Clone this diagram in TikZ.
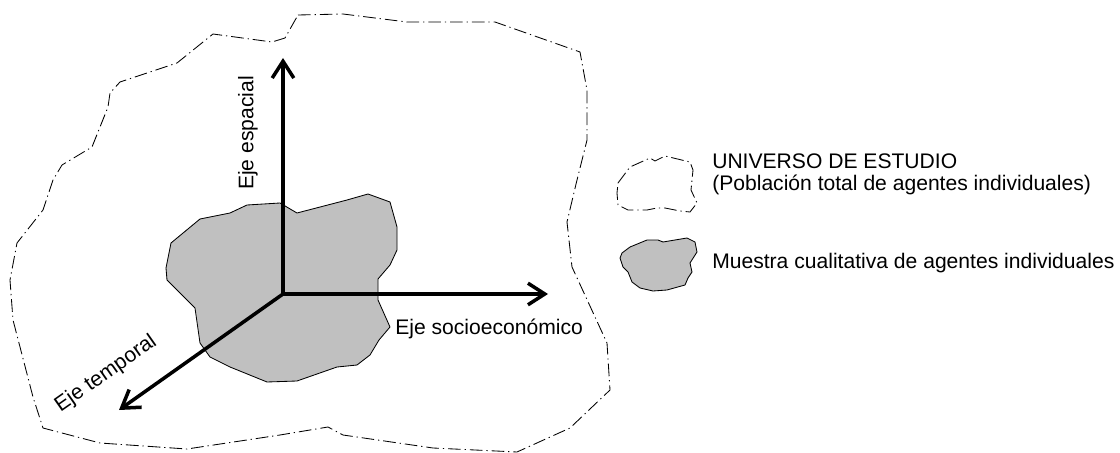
\documentclass[tikz,border=0pt]{standalone}
\usepackage{fontspec}
\setmainfont{Liberation Sans}
\usetikzlibrary{arrows.meta}
\definecolor{blobgray}{RGB}{192,192,192}
\tikzset{
  universe/.style={line width=0.6pt, dash pattern=on 9pt off 2.8pt on 0.9pt off 2.8pt, line join=round},
  sample/.style={fill=blobgray, draw=black, line width=0.6pt, line join=round},
  axis/.style={line width=2.5pt, -{Straight Barb[length=4.2mm,width=5.4mm,line width=2.5pt]}},
  lbl/.style={inner sep=0pt, font=\fontsize{15}{15.6}\selectfont},
}
\begin{document}
\begin{tikzpicture}[x=0.025cm,y=-0.025cm]
\useasboundingbox (0,0) rectangle (1120,453);
% universe of study
\draw[universe] (298,15) -- (343,14) -- (407,22) -- (495,22) -- (580,52) -- (587,90) -- (587,140) -- (577,180) -- (567,222) -- (572,267) -- (607,343) -- (610,390) -- (570,428) -- (517,452) -- (433,448) -- (343,435) -- (328,427) -- (280,435) -- (187,449) -- (100,443) -- (43,428) -- (33,397) -- (13,320) -- (10,280) -- (17,243) -- (43,210) -- (53,180) -- (62,165) -- (92,147) -- (108,107) -- (110,93) -- (120,82) -- (177,63) -- (213,34) -- (272,42) -- (285,38) -- cycle;
% sample
\draw[sample] (280,203) -- (297,213) -- (347,200) -- (368,194) -- (390,202) -- (397,227) -- (397,250) -- (390,265) -- (378,279) -- (378,300) -- (390,327) -- (379,340) -- (370,355) -- (357,365) -- (337,367) -- (297,381) -- (267,382) -- (230,367) -- (210,357) -- (200,343) -- (195,308) -- (167,280) -- (166,268) -- (171,243) -- (200,219) -- (230,213) -- (247,205) -- cycle;
% axes
\coordinate (O) at (283,294);
\coordinate (up) at (283,58);
\coordinate (right) at (548,294);
\coordinate (down) at (119,410);
\draw[axis] (O) -- (up);
\draw[axis] (O) -- (right);
\draw[axis] (O) -- (down);
\node[lbl, rotate=90] (lesp) at (248,133) {Eje espacial};
\node[lbl, anchor=base west] (lsoc) at (395,334) {Eje socioeconómico};
\node[lbl, rotate=35] (ltem) at (106,374) {Eje temporal};
% legend
\draw[universe] (618,183) -- (630,167) -- (650,158) -- (655,161) -- (665,156) -- (690,162) -- (693,170) -- (691,190) -- (697,203) -- (690,212) -- (680,211) -- (665,208) -- (657,208) -- (647,210) -- (628,210) -- (618,205) -- (617,193) -- cycle;
\draw[sample] (622,253) -- (630,247) -- (647,240) -- (658,240) -- (663,242) -- (687,238) -- (695,242) -- (697,252) -- (690,263) -- (692,272) -- (688,278) -- (685,285) -- (667,290) -- (653,291) -- (640,288) -- (632,282) -- (628,272) -- (623,267) -- (620,258) -- cycle;
\node[lbl, anchor=base west] (leg1) at (712,169) {UNIVERSO DE ESTUDIO};
\node[lbl, anchor=base west] (leg2) at (712,191) {(Población total de agentes individuales)};
\node[lbl, anchor=base west] (leg3) at (712,268) {Muestra cualitativa de agentes individuales};
\end{tikzpicture}
\end{document}
